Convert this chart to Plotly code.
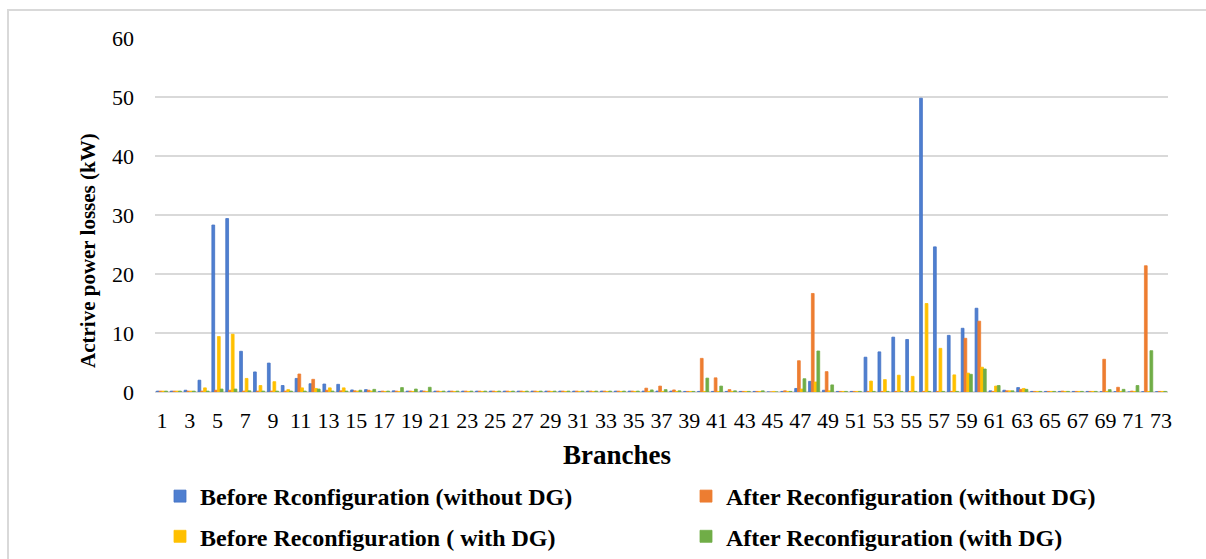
import plotly.graph_objects as go

# Branch numbers 1..73 of the distribution feeder
branches = list(range(1, 74))

# Active power losses per branch (kW)
before_reconf_no_dg = [
    0.15, 0.15, 0.3, 2.0, 28.3, 29.4, 6.9, 3.4, 4.9, 1.1,
    2.3, 1.4, 1.35, 1.3, 0.35, 0.4, 0.1, 0.2, 0.15, 0.2,
    0.15, 0.15, 0.15, 0.15, 0.15, 0.15, 0.15, 0.15, 0.15, 0.15,
    0.15, 0.15, 0.15, 0.15, 0.15, 0.15, 0.15, 0.15, 0.1, 0.1,
    0.1, 0.1, 0.1, 0.1, 0.0, 0.1, 0.6, 1.8, 0.3, 0.1,
    0.1, 5.9, 6.8, 9.3, 8.9, 49.8, 24.6, 9.6, 10.8, 14.2,
    0.2, 0.3, 0.75, 0.1, 0.1, 0.1, 0.1, 0.1, 0.05, 0.05,
    0.0, 0.05, 0.05,
]
after_reconf_no_dg = [
    0.15, 0.15, 0.15, 0.15, 0.3, 0.3, 0.15, 0.15, 0.15, 0.15,
    3.05, 2.15, 0.3, 0.2, 0.2, 0.3, 0.15, 0.15, 0.15, 0.15,
    0.15, 0.15, 0.15, 0.15, 0.15, 0.15, 0.15, 0.15, 0.15, 0.15,
    0.15, 0.15, 0.15, 0.15, 0.15, 0.65, 1.0, 0.35, 0.1, 5.7,
    2.4, 0.4, 0.1, 0.1, 0.0, 0.2, 5.3, 16.7, 3.45, 0.1,
    0.1, 0.1, 0.1, 0.1, 0.1, 0.1, 0.1, 0.1, 9.1, 12.0,
    0.1, 0.2, 0.45, 0.1, 0.1, 0.15, 0.1, 0.1, 5.55, 0.8,
    0.15, 21.4, 0.1,
]
before_reconf_dg = [
    0.15, 0.15, 0.15, 0.7, 9.4, 9.8, 2.3, 1.1, 1.75, 0.4,
    0.7, 0.6, 0.7, 0.7, 0.15, 0.15, 0.1, 0.1, 0.1, 0.1,
    0.1, 0.1, 0.1, 0.1, 0.1, 0.1, 0.1, 0.1, 0.1, 0.1,
    0.1, 0.1, 0.1, 0.1, 0.1, 0.1, 0.1, 0.1, 0.1, 0.1,
    0.1, 0.1, 0.1, 0.1, 0.1, 0.1, 0.5, 1.7, 0.2, 0.1,
    0.1, 1.85, 2.1, 2.85, 2.65, 15.0, 7.4, 2.9, 3.2, 4.2,
    1.0, 0.2, 0.6, 0.1, 0.1, 0.1, 0.1, 0.1, 0.1, 0.1,
    0.1, 0.1, 0.1,
]
after_reconf_dg = [
    0.15, 0.15, 0.15, 0.15, 0.5, 0.5, 0.2, 0.15, 0.15, 0.15,
    0.15, 0.5, 0.15, 0.15, 0.3, 0.45, 0.15, 0.75, 0.5, 0.8,
    0.15, 0.15, 0.15, 0.15, 0.15, 0.15, 0.15, 0.15, 0.15, 0.15,
    0.15, 0.15, 0.15, 0.15, 0.15, 0.35, 0.4, 0.2, 0.1, 2.35,
    1.0, 0.2, 0.1, 0.2, 0.0, 0.1, 2.25, 6.95, 1.2, 0.1,
    0.1, 0.1, 0.1, 0.1, 0.1, 0.1, 0.1, 0.1, 3.0, 3.9,
    1.1, 0.2, 0.45, 0.1, 0.1, 0.1, 0.1, 0.1, 0.4, 0.45,
    1.1, 7.0, 0.1,
]

x_ticks = list(range(1, 74, 2))
y_ticks = [0, 10, 20, 30, 40, 50, 60]

SERIF = "Liberation Serif, Times New Roman, serif"

series = [
    ("Before Rconfiguration (without DG)", before_reconf_no_dg, "#4F7FD0", "#4472C4", "legend", "g1"),
    ("After Reconfiguration (without DG)", after_reconf_no_dg, "#ED7D31", "#ED7D31", "legend2", "g2"),
    ("Before Reconfiguration ( with DG)", before_reconf_dg, "#FFC000", "#FFC000", "legend", "g3"),
    ("After Reconfiguration (with DG)", after_reconf_dg, "#70AD47", "#70AD47", "legend2", "g4"),
]

fig = go.Figure()
for name, vals, fill, edge, leg, grp in series:
    fig.add_trace(go.Bar(
        x=branches, y=vals, name=name,
        marker=dict(color=fill, line=dict(color=edge, width=0.8)),
        legend=leg, legendgroup=grp,
    ))

W, H = 1206, 559
L, R, T, B = 155, 38, 38, 167
pw, ph = W - L - R, H - T - B


def px_x(p):
    return (p - L) / pw


def px_y(p):
    return (H - B - p) / ph


legend_common = dict(
    orientation="v", xanchor="left", yanchor="top",
    font=dict(family=SERIF, size=24, weight="bold", color="#000000"),
    bgcolor="rgba(0,0,0,0)", tracegroupgap=6, itemwidth=30,
)

fig.update_layout(
    width=W, height=H,
    margin=dict(l=L, r=R, t=T, b=B, autoexpand=False),
    paper_bgcolor="white", plot_bgcolor="white",
    barmode="group", bargap=0.2, bargroupgap=0.0,
    font=dict(family=SERIF, color="#000000"),
    legend=dict(x=px_x(160), y=px_y(474), **legend_common),
    legend2=dict(x=px_x(686), y=px_y(474), **legend_common),
    xaxis=dict(
        range=[0.5, 73.5], tickmode="array", tickvals=x_ticks,
        ticktext=[str(v) for v in x_ticks], tickangle=0,
        tickfont=dict(family=SERIF, size=22, color="#000000"),
        showgrid=False, zeroline=False, showline=False, ticks="",
        ticklabelstandoff=13,
    ),
    yaxis=dict(
        range=[0, 60], tickmode="array", tickvals=y_ticks,
        tickfont=dict(family=SERIF, size=22, color="#000000"),
        showgrid=True, gridcolor="#D9D9D9", gridwidth=1.6,
        zeroline=True, zerolinecolor="#D9D9D9", zerolinewidth=1.6,
        showline=False, ticks="", ticklabelstandoff=20,
    ),
    annotations=[
        dict(text="<b>Actrive power losses (kW)</b>", textangle=-90,
             xref="paper", yref="paper", x=px_x(88), y=px_y(251),
             xanchor="center", yanchor="middle", showarrow=False,
             font=dict(family=SERIF, size=21, color="#000000")),
        dict(text="<b>Branches</b>",
             xref="paper", yref="paper", x=px_x(617), y=px_y(455),
             xanchor="center", yanchor="middle", showarrow=False,
             font=dict(family=SERIF, size=27, color="#000000")),
    ],
    shapes=[
        dict(type="rect", xref="paper", yref="paper",
             x0=px_x(8), x1=px_x(1215), y0=px_y(10), y1=px_y(575),
             line=dict(color="#D9D9D9", width=2), fillcolor="rgba(0,0,0,0)",
             layer="below"),
    ],
)

fig.write_html("out.html")
